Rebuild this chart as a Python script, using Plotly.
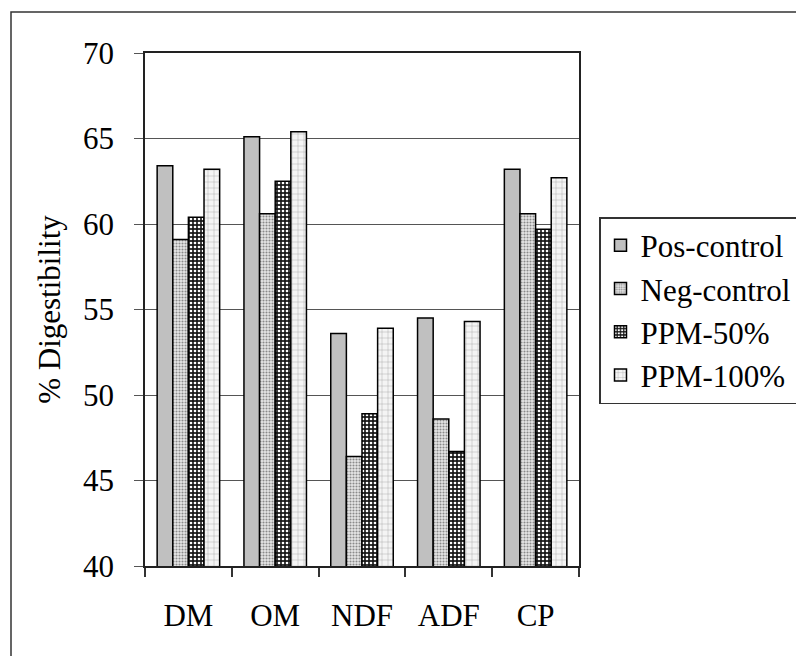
import plotly.graph_objects as go

categories = ["DM", "OM", "NDF", "ADF", "CP"]
series_names = ["Pos-control", "Neg-control", "PPM-50%", "PPM-100%"]
pos_control = [63.4, 65.1, 53.6, 54.5, 63.2]
neg_control = [59.1, 60.6, 46.4, 48.6, 60.6]
ppm_50 = [60.4, 62.5, 48.9, 46.7, 59.7]
ppm_100 = [63.2, 65.4, 53.9, 54.3, 62.7]
y_ticks = [40, 45, 50, 55, 60, 65, 70]

FONT = "Times New Roman, Liberation Serif, serif"
FS = 31

patterns = [
    dict(shape="", ),
    dict(shape=".", fillmode="replace", bgcolor="#e8e8e8", fgcolor="#8a8a8a", size=3, solidity=0.4),
    dict(shape=".", fillmode="replace", bgcolor="#1a1a1a", fgcolor="#ffffff", size=4, solidity=0.35),
    dict(shape="+", fillmode="replace", bgcolor="#f4f4f4", fgcolor="#a8a8a8", size=6, solidity=0.15),
]
colors = ["#c0c0c0", "#c8c8c8", "#333333", "#e8e8e8"]
values = [pos_control, neg_control, ppm_50, ppm_100]

fig = go.Figure()
for name, vals, pat, col in zip(series_names, values, patterns, colors):
    fig.add_trace(go.Bar(
        x=categories, y=vals, name=name,
        marker=dict(color=col, pattern=pat, line=dict(color="black", width=1.5)),
    ))

L, R, T, B = 145, 579, 53, 566
W, H = 796, 656
pw, ph = R - L, B - T

fig.update_layout(
    width=W, height=H,
    margin=dict(l=L, r=W - R, t=T, b=H - B, pad=0, autoexpand=False),
    paper_bgcolor="white", plot_bgcolor="white",
    font=dict(family=FONT, size=FS, color="black"),
    barmode="group", bargap=0.28, bargroupgap=0,
    showlegend=True,
    legend=dict(
        x=(599 - L) / pw, y=(B - 217) / ph, xanchor="left", yanchor="top",
        bgcolor="white", bordercolor="#333333", borderwidth=1.5,
        font=dict(family=FONT, size=FS, color="black"),
        tracegroupgap=0,
    ),
    xaxis=dict(
        type="category", tickson="boundaries", ticks="outside", ticklen=9,
        tickcolor="#333333", tickwidth=1.5,
        showline=True, linecolor="#222222", linewidth=1.5, mirror=True,
        showgrid=False, ticklabelstandoff=21,
        tickfont=dict(family=FONT, size=FS, color="black"),
    ),
    yaxis=dict(
        range=[40, 70], tickvals=y_ticks, ticks="outside", ticklen=9,
        tickcolor="#555555", tickwidth=1,
        showline=True, linecolor="#222222", linewidth=1.5, mirror=True,
        showgrid=True, gridcolor="#555555", gridwidth=1.2,
        zeroline=False, ticklabelstandoff=14,
        tickfont=dict(family=FONT, size=FS, color="black"),
        title=dict(text="% Digestibility", font=dict(family=FONT, size=FS, color="black"), standoff=13),
    ),
    shapes=[dict(
        type="rect", xref="paper", yref="paper",
        x0=(11 - L) / pw, x1=3, y0=-3, y1=(B - 12) / ph,
        line=dict(color="#333333", width=1.5), fillcolor="rgba(0,0,0,0)", layer="below",
    )],
)

fig.write_html("out.html")
